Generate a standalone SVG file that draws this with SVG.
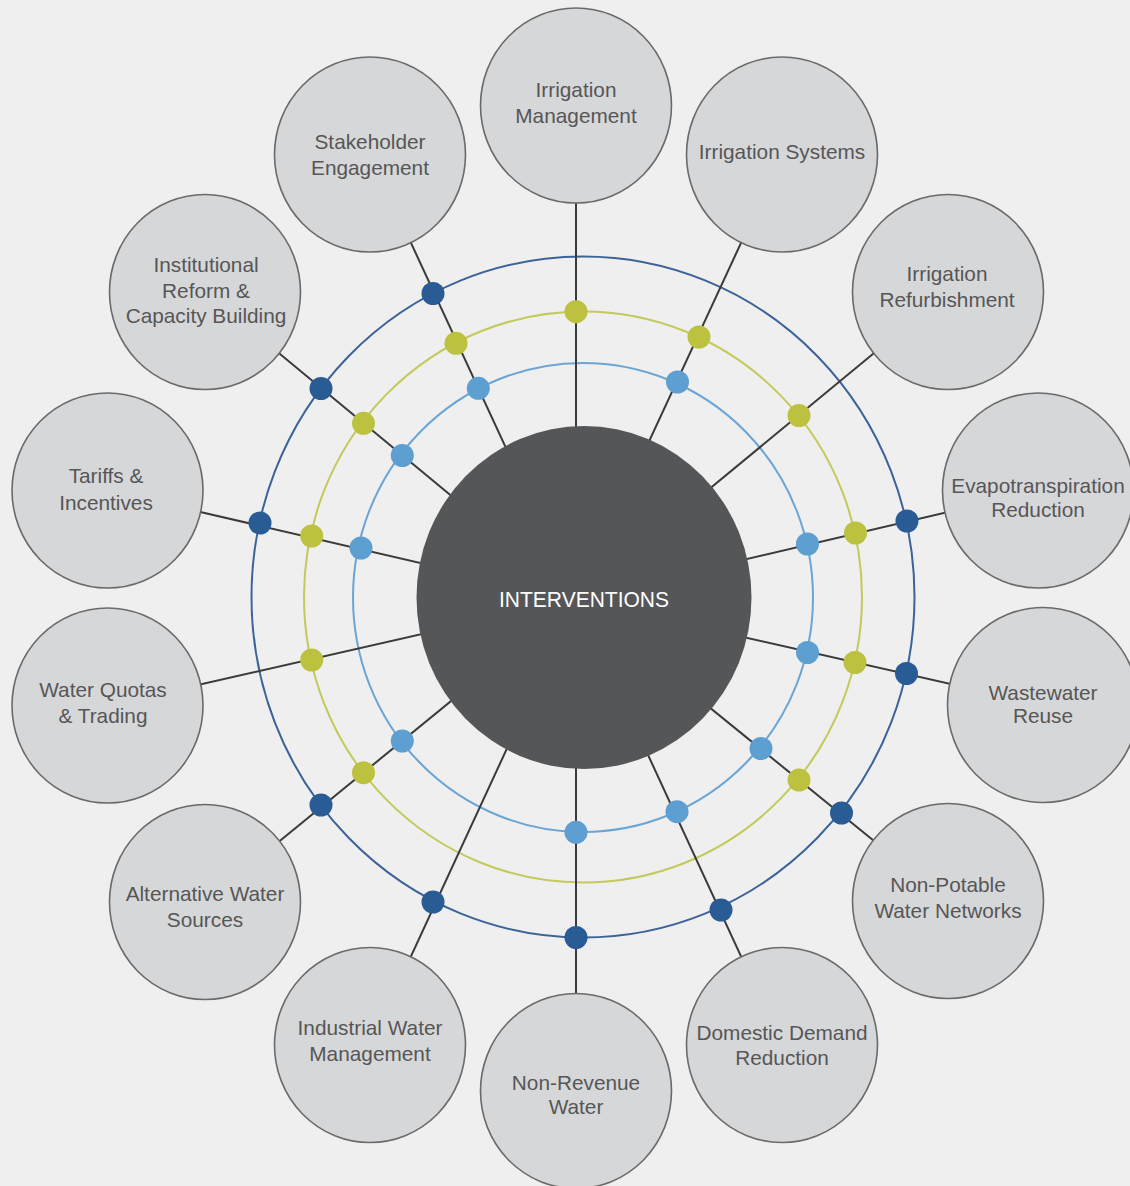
<svg xmlns="http://www.w3.org/2000/svg" width="1130" height="1186" viewBox="0 0 1130 1186">
<style>
.bg{fill:#efefef}
.ring{fill:none;stroke-width:2}
.r1{stroke:#3c6399}
.r2{stroke:#c3c95a}
.r3{stroke:#6aa5d6}
.spoke{stroke:#3a3a3a;stroke-width:2}
.node ellipse{fill:#d6d7d9;stroke:#6a6a6a;stroke-width:1.6}
.node text{font-family:"Liberation Sans",Arial,sans-serif;font-size:20.8px;fill:#565656;text-anchor:middle}
.dd{fill:#295b94}
.dg{fill:#bcc240}
.dl{fill:#5d9fd0}
.center ellipse{fill:#555658}
.center text{font-family:"Liberation Sans",Arial,sans-serif;font-size:22px;fill:#ffffff;text-anchor:middle}
</style>
<rect class="bg" x="0" y="0" width="1130" height="1186"/>
<g id="rings">
<ellipse class="ring r1" cx="583" cy="597" rx="331.5" ry="340.5"/>
<ellipse class="ring r2" cx="583" cy="597" rx="279" ry="285.5"/>
<ellipse class="ring r3" cx="583" cy="597.5" rx="230" ry="234.5"/>
</g>
<g id="connectors">
<line class="spoke" x1="576" y1="599" x2="576" y2="105.5"/>
<line class="spoke" x1="576" y1="599" x2="782" y2="154.5"/>
<line class="spoke" x1="576" y1="599" x2="948" y2="292"/>
<line class="spoke" x1="576" y1="599" x2="1040" y2="490.5"/>
<line class="spoke" x1="576" y1="599" x2="1043" y2="705"/>
<line class="spoke" x1="576" y1="599" x2="948" y2="901"/>
<line class="spoke" x1="576" y1="599" x2="782" y2="1045"/>
<line class="spoke" x1="576" y1="599" x2="576" y2="1091"/>
<line class="spoke" x1="576" y1="599" x2="370" y2="1045"/>
<line class="spoke" x1="576" y1="599" x2="205" y2="902"/>
<line class="spoke" x1="576" y1="599" x2="107.5" y2="705.5"/>
<line class="spoke" x1="576" y1="599" x2="107.5" y2="490.5"/>
<line class="spoke" x1="576" y1="599" x2="205" y2="292"/>
<line class="spoke" x1="576" y1="599" x2="370" y2="154.5"/>
</g>
<g id="dots">
<circle class="dd" cx="907" cy="521" r="11.5"/>
<circle class="dd" cx="906.5" cy="673.5" r="11.5"/>
<circle class="dd" cx="841.5" cy="813" r="11.5"/>
<circle class="dd" cx="721" cy="910" r="11.5"/>
<circle class="dd" cx="576" cy="937.5" r="11.5"/>
<circle class="dd" cx="433" cy="902" r="11.5"/>
<circle class="dd" cx="321" cy="805" r="11.5"/>
<circle class="dd" cx="260" cy="523" r="11.5"/>
<circle class="dd" cx="321" cy="388.5" r="11.5"/>
<circle class="dd" cx="433" cy="293.5" r="11.5"/>
<circle class="dg" cx="576" cy="311.7" r="11.5"/>
<circle class="dg" cx="699" cy="337" r="11.5"/>
<circle class="dg" cx="799" cy="415.5" r="11.5"/>
<circle class="dg" cx="855.5" cy="533" r="11.5"/>
<circle class="dg" cx="855" cy="662.5" r="11.5"/>
<circle class="dg" cx="799" cy="780" r="11.5"/>
<circle class="dg" cx="363.5" cy="772.7" r="11.5"/>
<circle class="dg" cx="311.7" cy="660" r="11.5"/>
<circle class="dg" cx="311.7" cy="536" r="11.5"/>
<circle class="dg" cx="363.5" cy="423.3" r="11.5"/>
<circle class="dg" cx="456" cy="343.3" r="11.5"/>
<circle class="dl" cx="677.5" cy="382" r="11.5"/>
<circle class="dl" cx="807.5" cy="544" r="11.5"/>
<circle class="dl" cx="807.5" cy="652.5" r="11.5"/>
<circle class="dl" cx="761" cy="748.5" r="11.5"/>
<circle class="dl" cx="677" cy="811.7" r="11.5"/>
<circle class="dl" cx="576" cy="832.3" r="11.5"/>
<circle class="dl" cx="402.3" cy="741" r="11.5"/>
<circle class="dl" cx="361" cy="548" r="11.5"/>
<circle class="dl" cx="402.3" cy="455.5" r="11.5"/>
<circle class="dl" cx="478.3" cy="388.3" r="11.5"/>
</g>
<g id="center" class="center">
<ellipse cx="584" cy="597.5" rx="167.5" ry="171.5"/>
<text x="584" y="607" textLength="170" lengthAdjust="spacingAndGlyphs">INTERVENTIONS</text>
</g>
<g id="n1" class="node"><ellipse cx="576" cy="105.5" rx="95.5" ry="97.5"/><text x="576" y="97">Irrigation</text><text x="576" y="123">Management</text></g>
<g id="n2" class="node"><ellipse cx="782" cy="154.5" rx="95.5" ry="97.5"/><text x="782" y="159">Irrigation Systems</text></g>
<g id="n3" class="node"><ellipse cx="948" cy="292" rx="95.5" ry="97.5"/><text x="947" y="281">Irrigation</text><text x="947" y="307">Refurbishment</text></g>
<g id="n4" class="node"><ellipse cx="1038" cy="490.5" rx="95.5" ry="97.5"/><text x="1038" y="493">Evapotranspiration</text><text x="1038" y="517">Reduction</text></g>
<g id="n5" class="node"><ellipse cx="1043" cy="705" rx="95.5" ry="97.5"/><text x="1043" y="700">Wastewater</text><text x="1043" y="723">Reuse</text></g>
<g id="n6" class="node"><ellipse cx="948" cy="901" rx="95.5" ry="97.5"/><text x="948" y="892">Non-Potable</text><text x="948" y="918">Water Networks</text></g>
<g id="n7" class="node"><ellipse cx="782" cy="1045" rx="95.5" ry="97.5"/><text x="782" y="1040">Domestic Demand</text><text x="782" y="1065">Reduction</text></g>
<g id="n8" class="node"><ellipse cx="576" cy="1091" rx="95.5" ry="97.5"/><text x="576" y="1090">Non-Revenue</text><text x="576" y="1114">Water</text></g>
<g id="n9" class="node"><ellipse cx="370" cy="1045" rx="95.5" ry="97.5"/><text x="370" y="1035">Industrial Water</text><text x="370" y="1061">Management</text></g>
<g id="n10" class="node"><ellipse cx="205" cy="902" rx="95.5" ry="97.5"/><text x="205" y="901">Alternative Water</text><text x="205" y="927">Sources</text></g>
<g id="n11" class="node"><ellipse cx="107.5" cy="705.5" rx="95.5" ry="97.5"/><text x="103" y="697">Water Quotas</text><text x="103" y="723">&amp; Trading</text></g>
<g id="n12" class="node"><ellipse cx="107.5" cy="490.5" rx="95.5" ry="97.5"/><text x="106" y="483">Tariffs &amp;</text><text x="106" y="510">Incentives</text></g>
<g id="n13" class="node"><ellipse cx="205" cy="292" rx="95.5" ry="97.5"/><text x="206" y="272">Institutional</text><text x="206" y="298">Reform &amp;</text><text x="206" y="323">Capacity Building</text></g>
<g id="n14" class="node"><ellipse cx="370" cy="154.5" rx="95.5" ry="97.5"/><text x="370" y="149">Stakeholder</text><text x="370" y="175">Engagement</text></g>
</svg>
